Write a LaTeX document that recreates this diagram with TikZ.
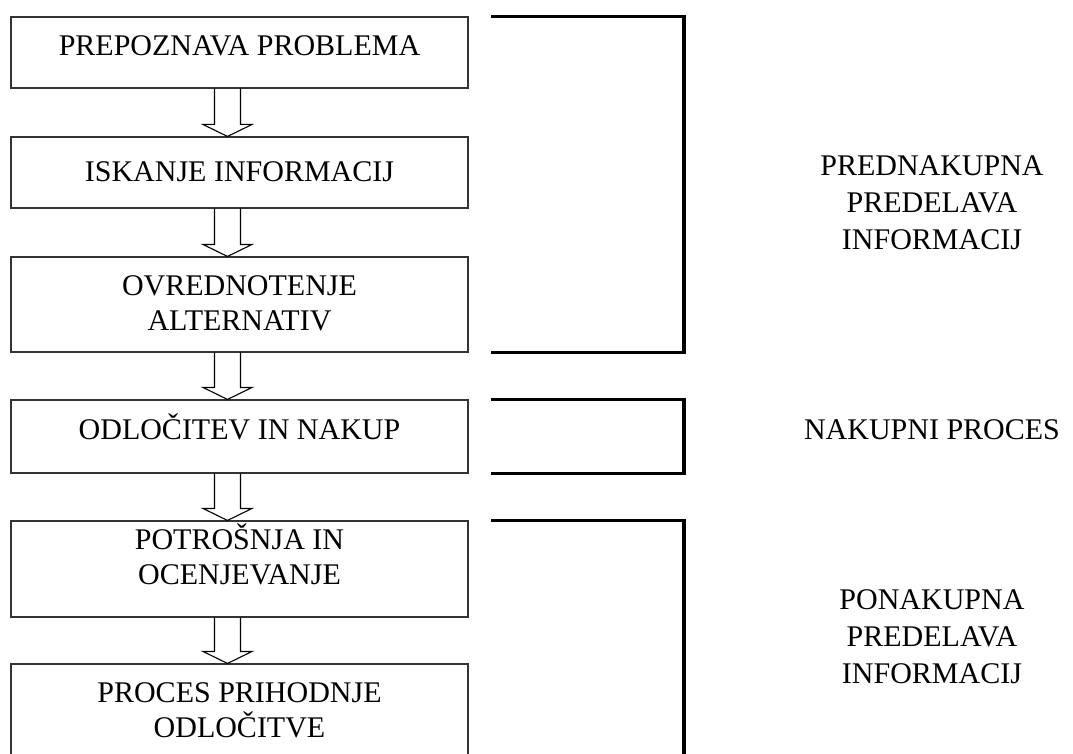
\documentclass[tikz,border=0pt]{standalone}
\usepackage{fontspec}
\setmainfont{Liberation Serif}
\usetikzlibrary{calc}
\begin{document}
\begin{tikzpicture}[x=1pt,y=-1pt,
  box/.style={draw=black!80, line width=1.1pt, inner sep=0pt, minimum width=457pt},
  txt/.style={font=\fontsize{30}{34.5}\selectfont, align=center, inner sep=0pt, anchor=base},
  lbl/.style={font=\fontsize{30}{37}\selectfont, align=center, inner sep=0pt, anchor=base},
  arr/.style={draw=black, line width=1.1pt, line join=miter},
  bracket/.style={draw=black, line width=3.5pt, line join=miter}]
\clip (0,0) rectangle (1073,754);
\fill[white] (0,0) rectangle (1073,754);
% boxes
\node[box, minimum height=71pt] (b1) at (239.5,52.5) {};
\node[box, minimum height=71pt] (b2) at (239.5,172.5) {};
\node[box, minimum height=95pt] (b3) at (239.5,304.5) {};
\node[box, minimum height=73pt] (b4) at (239.5,436.5) {};
\node[box, minimum height=96pt] (b5) at (239.5,569) {};
\node[box, minimum height=136pt] (b6) at (239.5,732) {};
% box texts (anchor = baseline of last line)
\node[txt] (t1) at (239.5,56) {PREPOZNAVA PROBLEMA};
\node[txt] (t2) at (239.5,182) {ISKANJE INFORMACIJ};
\node[txt] (t3) at (239.5,330) {OVREDNOTENJE\\ALTERNATIV};
\node[txt] (t4) at (239.5,439) {ODLOČITEV IN NAKUP};
\node[txt] (t5) at (239.5,584) {POTROŠNJA IN\\OCENJEVANJE};
\node[txt] (t6) at (239.5,737) {PROCES PRIHODNJE\\ODLOČITVE};
% block arrows
\newcommand\blockarr[2]{%
  \draw[arr] ($(#1.south)+(-25,0)$) -- ($(#2.north)+(-25,-12)$) -- ($(#2.north)+(-36.5,-12)$)
    -- ($(#2.north)+(-12,0)$) -- ($(#2.north)+(12.5,-12)$) -- ($(#2.north)+(1,-12)$) -- ($(#1.south)+(1,0)$);}
\blockarr{b1}{b2}
\blockarr{b2}{b3}
\blockarr{b3}{b4}
\blockarr{b4}{b5}
\blockarr{b5}{b6}
% brackets
\coordinate (bl) at (491,0);
\coordinate (br) at (684,0);
\coordinate (bend) at (0,800);
\draw[bracket] (b1.north -| bl) -- (b1.north -| br) -- (b3.south -| br) -- (b3.south -| bl);
\draw[bracket] (b4.north -| bl) -- (b4.north -| br) -- (b4.south -| br) -- (b4.south -| bl);
\draw[bracket] (b5.north -| bl) -- (b5.north -| br) -- (bend -| br);
% labels
\node[lbl] (l1) at (932,249) {PREDNAKUPNA\\PREDELAVA\\INFORMACIJ};
\node[lbl] (l2) at (932,439) {NAKUPNI PROCES};
\node[lbl] (l3) at (932,683) {PONAKUPNA\\PREDELAVA\\INFORMACIJ};
\end{tikzpicture}
\end{document}
